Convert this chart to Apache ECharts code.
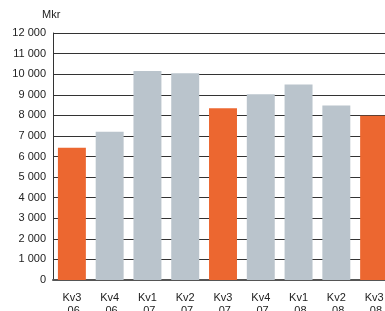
<!DOCTYPE html>
<html>
<head>
<meta charset="utf-8">
<script src="https://cdn.jsdelivr.net/npm/echarts@6/dist/echarts.min.js"></script>
<style>
  html, body { margin: 0; padding: 0; background: #fff; }
  #chart { width: 385px; height: 311px; }
</style>
</head>
<body>
<div id="chart"></div>
<script>
var categories = ['Kv3\n-06', 'Kv4\n-06', 'Kv1\n-07', 'Kv2\n-07', 'Kv3\n-07', 'Kv4\n-07', 'Kv1\n-08', 'Kv2\n-08', 'Kv3\n-08'];
var values = [6420, 7200, 10150, 10050, 8350, 9030, 9500, 8480, 7980];
// Kv3 quarters are orange
var highlight = [true, false, false, false, true, false, false, false, true];

var orange = '#ec6730';
var grey = '#bac4cc';

var dom = document.getElementById('chart');
var myChart = echarts.init(dom);

var option = {
    animation: false,
    grid: {
        left: 53,
        width: 340,
        top: 33,
        height: 247,
        outerBoundsMode: 'none',
        containLabel: false
    },
    graphic: [{
        type: 'text',
        left: 42,
        top: 9,
        style: {
            text: 'Mkr',
            fontSize: 11,
            fontFamily: 'Liberation Sans, Arial, sans-serif',
            fill: '#222'
        }
    }],
    xAxis: {
        type: 'category',
        data: categories,
        axisLine: { lineStyle: { color: '#555', width: 2 } },
        axisTick: { show: false },
        axisLabel: {
            color: '#222',
            fontSize: 11,
            fontFamily: 'Liberation Sans, Arial, sans-serif',
            lineHeight: 13,
            margin: 11,
            interval: 0
        }
    },
    yAxis: {
        type: 'value',
        min: 0,
        max: 12000,
        interval: 1000,
        axisLine: { show: true, lineStyle: { color: '#333', width: 1 } },
        axisTick: { show: false },
        splitLine: { lineStyle: { color: '#333', width: 1 } },
        axisLabel: {
            color: '#222',
            fontSize: 11,
            fontFamily: 'Liberation Sans, Arial, sans-serif',
            margin: 7,
            formatter: function (v) {
                return String(v).replace(/\B(?=(\d{3})+(?!\d))/g, ' ');
            }
        }
    },
    series: [{
        type: 'bar',
        barWidth: '74%',
        data: values.map(function (v, i) {
            return { value: v, itemStyle: { color: highlight[i] ? orange : grey } };
        })
    }]
};

myChart.setOption(option, true);
</script>
</body>
</html>
